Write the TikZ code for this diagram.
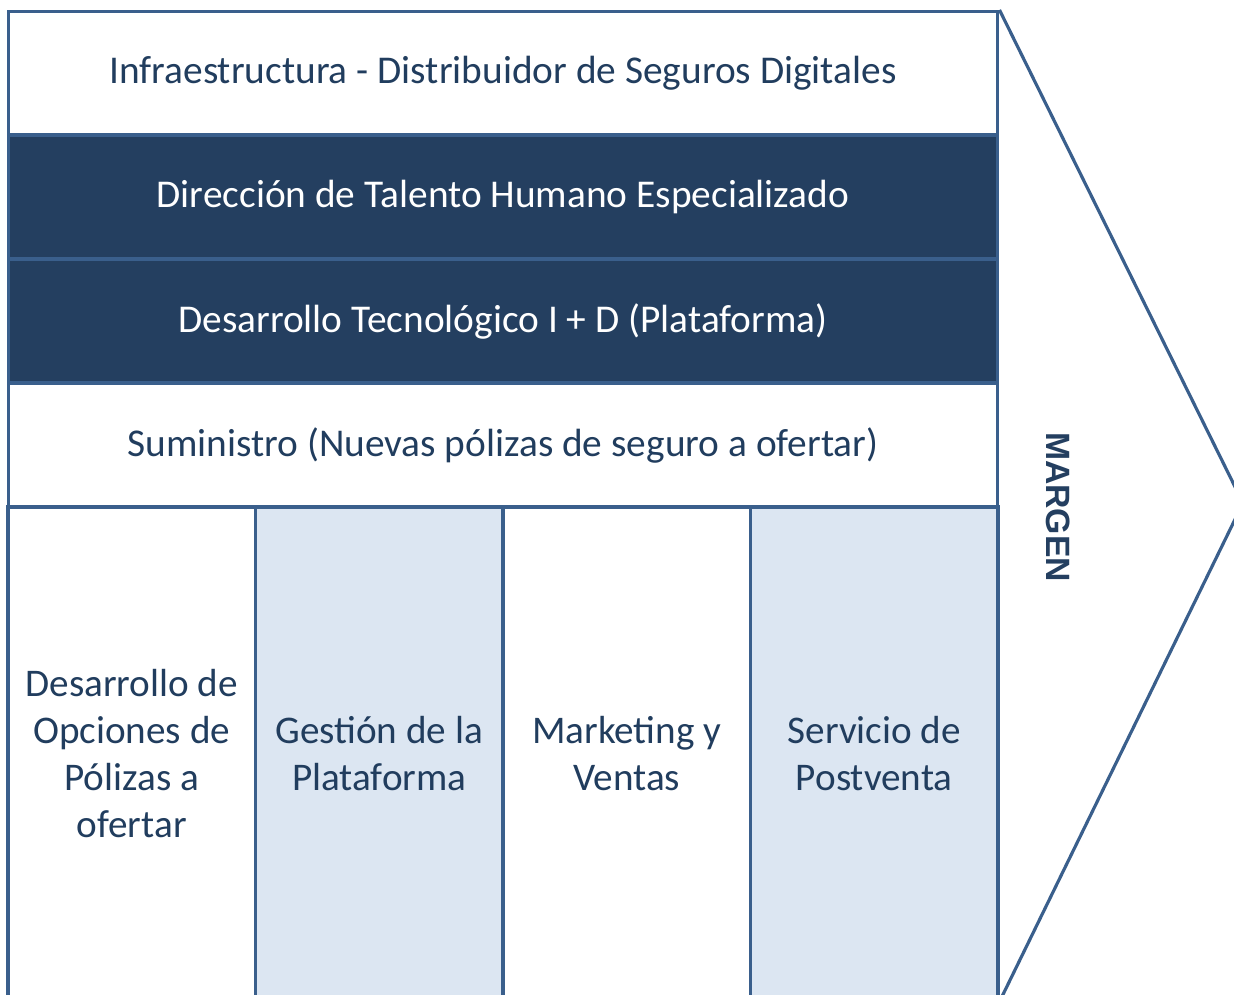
\documentclass[tikz,border=0pt]{standalone}
\usepackage{fontspec}
\setmainfont{Carlito}
\newfontfamily\marginfont{Liberation Sans}
\definecolor{edge}{HTML}{3A5F8C}
\definecolor{navy}{HTML}{243F60}
\definecolor{ink}{HTML}{213D5E}
\definecolor{pale}{HTML}{DCE6F2}
\begin{document}
\begin{tikzpicture}
    [
    x=0.02cm,y=-0.02cm,
    row/.style={rectangle,draw=edge,line width=1.8pt,inner sep=0pt,minimum width=19.8cm,minimum height=2.48cm,text=ink,font=\fontsize{22.4}{27}\selectfont},
    dark/.style={fill=navy,text=white},
    column/.style={rectangle,draw=edge,line width=1.8pt,inner sep=0pt,minimum width=4.95cm,minimum height=9.86cm,align=center,text=ink,font=\fontsize{22.3}{26.7}\selectfont},
    light/.style={fill=pale}
    ]
    \useasboundingbox (0,0) rectangle (1234,994);
    \clip (0,0) rectangle (1234,994);
    \node (infra) at (503,73.5) [row] {Infraestructura - Distribuidor de Seguros Digitales};
    \node (talento) at (503,197) [row, dark] {Dirección de Talento Humano Especializado};
    \node (tecno) at (503,321) [row, dark] {Desarrollo Tecnológico I + D (Plataforma)};
    \node (sumin) at (503,445) [row] {Suministro (Nuevas pólizas de seguro a ofertar)};
    \node (opciones) at (131.75,753.5) [column] {Desarrollo de\\Opciones de\\Pólizas a\\ofertar};
    \node (gestion) at (379.25,753.5) [column, light] {Gestión de la\\Plataforma};
    \node (ventas) at (626.75,753.5) [column] {Marketing y\\Ventas};
    \node (postventa) at (874.25,753.5) [column, light] {Servicio de\\Postventa};
    \coordinate (tip) at (1243,503);
    \draw [edge, line width=1.8pt, line join=miter] (infra.north east) -- (tip) -- (postventa.south east);
    \node (margen) at (1058,507) [rotate=-90, text=navy, font=\marginfont\bfseries\fontsize{19.2}{23}\selectfont] {MARGEN};
  \end{tikzpicture}
\end{document}
